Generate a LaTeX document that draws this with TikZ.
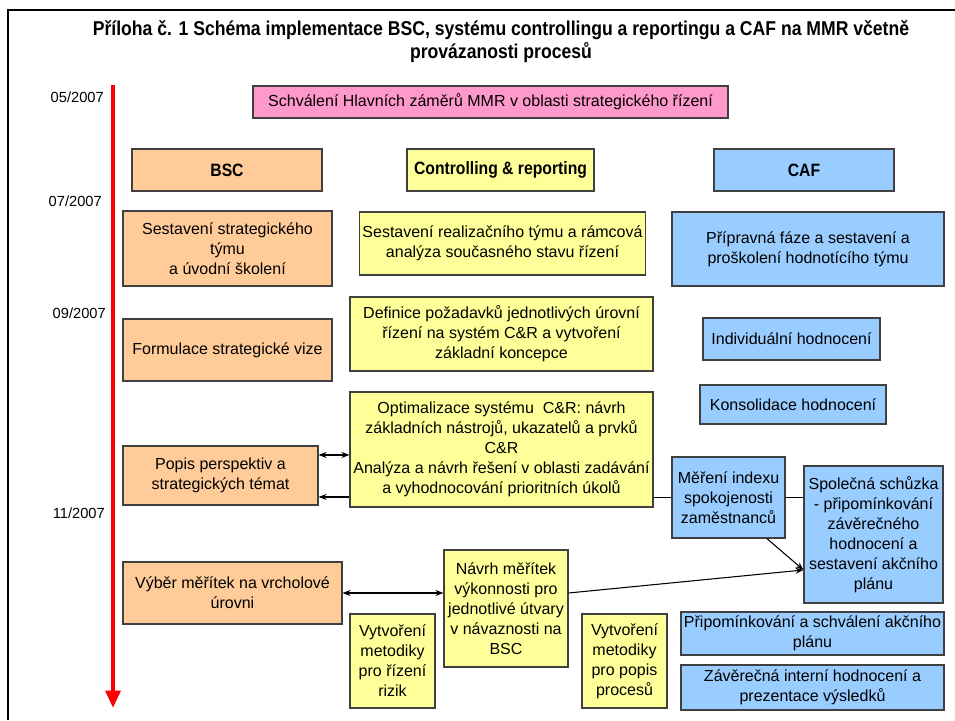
\documentclass[tikz,border=0pt]{standalone}
\usepackage{fontspec}
\setmainfont{Liberation Sans}
\newfontfamily\narrowfont[FakeStretch=0.88]{Liberation Sans}
\usepackage{tikz}
\usetikzlibrary{arrows.meta,positioning}
\definecolor{bscfill}{HTML}{FFCC99}
\definecolor{crfill}{HTML}{FFFF99}
\definecolor{caffill}{HTML}{99CCFF}
\definecolor{topfill}{HTML}{FF99CC}

\begin{document}
\begin{tikzpicture}[x=0.75pt,y=-0.75pt,>={Stealth[length=6pt,width=4.5pt]},
  font=\fontsize{12}{15}\selectfont,
  box/.style={rectangle,draw=black!75,line width=0.8pt,inner sep=2pt,align=center},
  bscbox/.style={box,fill=bscfill},
  crbox/.style={box,fill=crfill},
  cafbox/.style={box,fill=caffill},
  headbox/.style={font=\narrowfont\bfseries\fontsize{13.4}{15}\selectfont},
  datelabel/.style={anchor=east,inner sep=0pt,font=\fontsize{11}{13}\selectfont},
  link/.style={draw=black,line width=0.8pt}]
\useasboundingbox (0,0) rectangle (955,720);
% frame and time axis
\draw[line width=1.5pt] (8,720) -- (8,10) -- (955,10);
\coordinate (tstart) at (113,85);
\coordinate (tend) at (113,708);
\draw[red,line width=3pt,-{Triangle[length=13pt,width=11pt]}] (tstart) -- (tend);
\node[datelabel] (d05) at (104,97) {05/2007};
\node[datelabel] (d07) at (102,201) {07/2007};
\node[datelabel] (d09) at (106,313) {09/2007};
\node[datelabel] (d11) at (105,513) {11/2007};
% title
\node[align=center,font=\narrowfont\bfseries\fontsize{15}{17.25}\selectfont] (title) at (501,41.5)
  {Příloha č. 1 Schéma implementace BSC, systému controllingu a reportingu a CAF na MMR včetně\\provázanosti procesů};
\node[box,fill=topfill,minimum width=356.25pt,minimum height=24pt] (approve) at (490.5,102)
  {Schválení Hlavních záměrů MMR v oblasti strategického řízení};
% column heads
\node[bscbox,headbox,minimum width=142.5pt,minimum height=31.5pt] (bschead) at (227,170) {BSC};
\node[crbox,headbox,minimum width=140.25pt,minimum height=31.5pt] (crhead) at (500.5,170) {Controlling \& reporting};
\node[cafbox,headbox,minimum width=135pt,minimum height=31.5pt] (cafhead) at (804,170) {CAF};
% BSC
\node[bscbox,minimum width=156.75pt,minimum height=56.25pt] (bsc1) at (227.5,248.5)
  {Sestavení strategického\\týmu\\a úvodní školení};
\node[bscbox,minimum width=156.75pt,minimum height=46.5pt] (bsc2) at (227.5,350)
  {Formulace strategické vize};
\node[bscbox,minimum width=146.25pt,minimum height=44.25pt] (bsc3) at (220.5,475.5)
  {Popis perspektiv a\\strategických témat};
\node[bscbox,minimum width=164.25pt,minimum height=46.5pt] (bsc4) at (232.5,593)
  {Výběr měřítek na vrcholové\\úrovni};
% Controlling & reporting
\node[crbox,minimum width=212.25pt,minimum height=47.25pt] (cr1) at (502.5,243.5)
  {Sestavení realizačního týmu a rámcová\\analýza současného stavu řízení};
\node[crbox,minimum width=227.25pt,minimum height=55.5pt] (cr2) at (501.5,334)
  {Definice požadavků jednotlivých úrovní\\řízení na systém C\&R a vytvoření\\základní koncepce};
\node[crbox,minimum width=227.25pt,minimum height=86.25pt] (cr3) at (501.5,449.5)
  {Optimalizace systému \ C\&R: návrh\\základních nástrojů, ukazatelů a prvků\\C\&R\\Analýza a návrh řešení v oblasti zadávání\\a vyhodnocování prioritních úkolů};
\node[crbox,minimum width=93pt,minimum height=87.75pt] (cr4) at (506,608.5)
  {Návrh měřítek\\výkonnosti pro\\jednotlivé útvary\\v návaznosti na\\BSC};
\node[crbox,minimum width=63.75pt,minimum height=70.5pt] (cr5) at (392.5,661)
  {Vytvoření\\metodiky\\pro řízení\\rizik};
\node[crbox,minimum width=63.75pt,minimum height=70.5pt] (cr6) at (624.5,661)
  {Vytvoření\\metodiky\\pro popis\\procesů};
% CAF
\node[cafbox,minimum width=204pt,minimum height=55.5pt] (caf1) at (808,249)
  {Přípravná fáze a sestavení a\\proškolení hodnotícího týmu};
\node[cafbox,minimum width=132.75pt,minimum height=31.5pt] (caf2) at (791.5,339)
  {Individuální hodnocení};
\node[cafbox,minimum width=139.5pt,minimum height=29.25pt] (caf3) at (793,404.5)
  {Konsolidace hodnocení};
\node[cafbox,minimum width=84.75pt,minimum height=60.75pt] (caf4) at (728.5,497.5)
  {Měření indexu\\spokojenosti\\zaměstnanců};
\node[cafbox,minimum width=104.25pt,minimum height=102.75pt] (caf5) at (873.5,534.5)
  {Společná schůzka\\- připomínkování\\závěrečného\\hodnocení a\\sestavení akčního\\plánu};
\node[cafbox,minimum width=197.25pt,minimum height=32.25pt] (caf6) at (812.5,633.5)
  {Připomínkování a schválení akčního\\plánu};
\node[cafbox,minimum width=197.25pt,minimum height=33.75pt] (caf7) at (812.5,687.5)
  {Závěrečná interní hodnocení a\\prezentace výsledků};
% connectors
\coordinate (popisup) at ([yshift=15.4pt]bsc3.east);
\coordinate (popisdn) at ([yshift=-16.1pt]bsc3.east);
\coordinate (join) at ([yshift=-26.6pt]caf5.west);
\draw[link,<->] (popisup) -- (popisup -| cr3.west);
\draw[link,->] (popisdn -| cr3.west) -- (popisdn);
\draw[link] (cr3.east |- caf4.west) -- (caf4.west);
\draw[link] (caf4.east) -- (caf4.east -| caf5.west);
\draw[link,->] ([xshift=-14pt]caf4.south east) -- (join);
\draw[link,<->] (bsc4.east) -- (bsc4.east -| cr4.west);
\draw[link,->] (cr4.east |- bsc4.east) -- (join);
\end{tikzpicture}
\end{document}
